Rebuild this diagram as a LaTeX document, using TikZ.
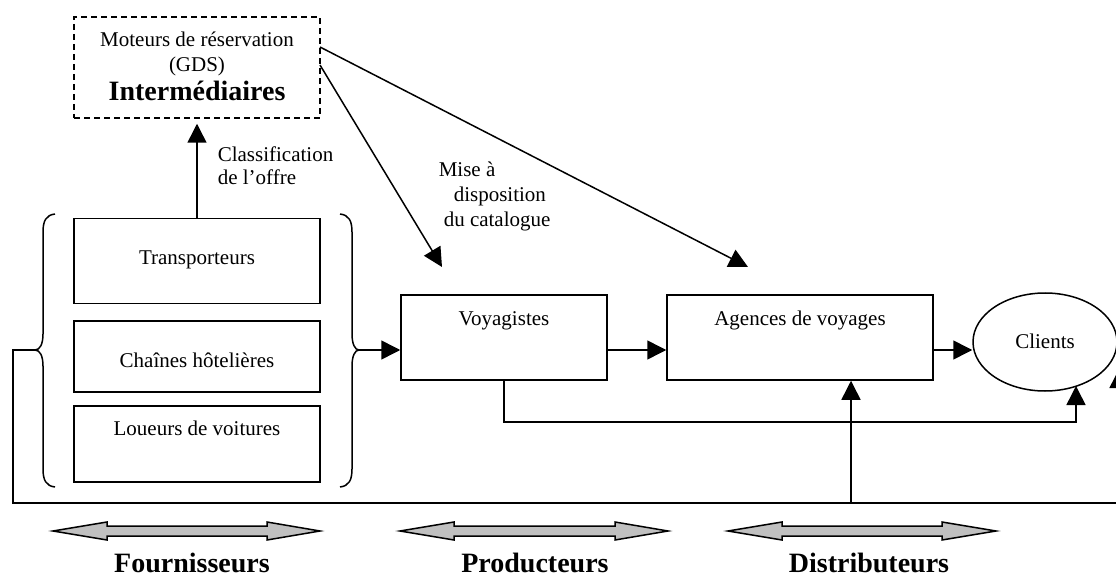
\documentclass[tikz,border=0pt]{standalone}
\usepackage{fontspec}
\setmainfont{Liberation Serif}
\usetikzlibrary{arrows.meta,shapes.geometric}
\definecolor{lg}{RGB}{192,192,192}
\begin{document}
\begin{tikzpicture}[x=1pt,y=-1pt,line width=1.5pt,
  box/.style={draw,rectangle,inner sep=0pt,line width=1.5pt},
  txt/.style={anchor=base,inner sep=0pt,font=\fontsize{21}{25}\selectfont},
  txtw/.style={anchor=base west,inner sep=0pt,font=\fontsize{21}{25}\selectfont},
  big/.style={anchor=base,inner sep=0pt,font=\fontsize{28}{32}\selectfont\bfseries},
  arr/.style={-{Triangle[length=19pt,width=19pt]},line width=1.5pt},
  dbl/.style={draw,fill=lg,line width=1.5pt,line join=miter}]
\useasboundingbox (0,0) rectangle (1116,577);
\clip (0,0) rectangle (1116,577);
% GDS box
\node[box,dashed,dash pattern=on 6pt off 4pt,minimum width=246pt,minimum height=101pt] (gds) at (197,67.5) {};
\node[txt] (gdsa) at (197,47) {Moteurs de réservation};
\node[txt] (gdsb) at (197,72) {(GDS)};
\node[big] (gdsc) at (197,101) {Intermédiaires};
% supplier boxes
\node[box,minimum width=246pt,minimum height=85pt] (trans) at (197,261) {};
\node[txt] (transt) at (197,265) {Transporteurs};
\node[box,minimum width=246pt,minimum height=71pt] (chain) at (197,356.5) {};
\node[txt] (chaint) at (197,367) {Chaînes hôtelières};
\node[box,minimum width=246pt,minimum height=76pt] (loue) at (197,444) {};
\node[txt] (louet) at (197,435) {Loueurs de voitures};
% classification arrow
\draw[arr] (trans.north) -- ([yshift=-5pt]gds.south);
\node[txtw] (cla) at (217,162) {Classification};
\node[txtw] (clb) at (217,185) {de l’offre};
% braces
\coordinate (lb) at (35,350);
\coordinate (rb) at (359,350);
\draw (55,214) .. controls (46,215) and (43,221) .. (43,232) -- (43,334)
  .. controls (43,344) and (40,350) .. (lb)
  .. controls (40,350) and (43,356) .. (43,366) -- (43,469)
  .. controls (43,480) and (46,486) .. (55,487);
\draw (340,214) .. controls (349,215) and (352,221) .. (352,232) -- (352,334)
  .. controls (352,344) and (355,350) .. (rb)
  .. controls (355,350) and (352,356) .. (352,366) -- (352,469)
  .. controls (352,480) and (349,486) .. (340,487);
% producers / distributors
\node[box,minimum width=206pt,minimum height=85pt] (voy) at (504,337.5) {};
\node[txt] (voyt) at (504,325) {Voyagistes};
\node[box,minimum width=266pt,minimum height=85pt] (ag) at (800,337.5) {};
\node[txt] (agt) at (800,325) {Agences de voyages};
\node[draw,ellipse,inner sep=0pt,minimum width=144pt,minimum height=98pt,line width=1.5pt] (cl) at (1045,342) {};
\node[txt] (clt) at (1045,348) {Clients};
% main flow
\draw[arr] (rb) -- (rb -| voy.west);
\draw[arr] (voy.east |- rb) -- (rb -| ag.west);
\draw[arr] (ag.east |- rb) -- (rb -| cl.west);
% voyagistes -> clients loop
\coordinate (k) at (1076,422);
\coordinate (kt) at (1076,386);
\draw[arr] (voy.south) |- (k) -- (kt);
% outer loop
\coordinate (o1) at (13,350);
\coordinate (o2) at (13,503);
\coordinate (o3) at (1119,503);
\coordinate (o4) at (1119,369);
\draw[arr] (lb) -- (o1) -- (o2) -- (o3) -- (o4);
\coordinate (m) at (851,503);
\draw[arr] (m) -- (m |- ag.south);
% catalogue arrows
\coordinate (g1) at (320,47);
\coordinate (g2) at (320,65);
\coordinate (t1) at (748,267);
\coordinate (t2) at (442,267);
\draw[arr] (g1) -- (t1);
\draw[arr] (g2) -- (t2);
\node[txtw] (ma) at (438,177) {Mise à};
\node[txtw] (mb) at (453,202) {disposition};
\node[txtw] (mc) at (443,227) {du catalogue};
% double arrows
\draw[dbl] (53,531) -- (107,522) -- (107,526) -- (267,526) -- (267,522) -- (320,531) -- (267,540) -- (267,536) -- (107,536) -- (107,540) -- cycle;
\draw[dbl] (400,531) -- (454,522) -- (454,526) -- (615,526) -- (615,522) -- (668,531) -- (615,540) -- (615,536) -- (454,536) -- (454,540) -- cycle;
\draw[dbl] (728,531) -- (782,522) -- (782,526) -- (942,526) -- (942,522) -- (996,531) -- (942,540) -- (942,536) -- (782,536) -- (782,540) -- cycle;
\node[big] (four) at (192,572) {Fournisseurs};
\node[big] (prod) at (535,572) {Producteurs};
\node[big] (dist) at (869,572) {Distributeurs};
\end{tikzpicture}
\end{document}
